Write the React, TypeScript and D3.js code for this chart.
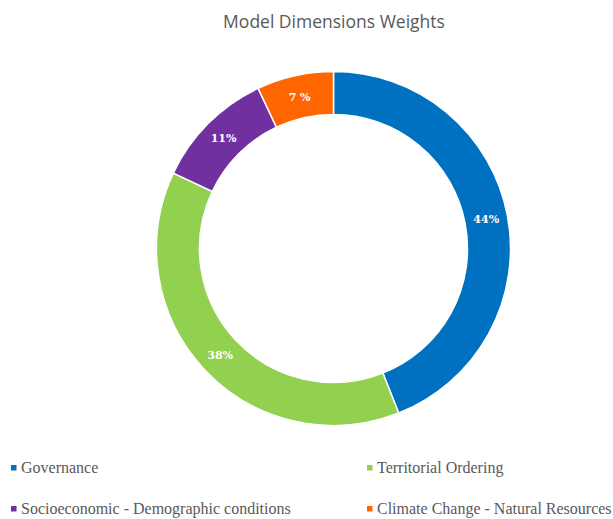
import React from "react";
import * as d3 from "d3";

const categories = [
  "Governance",
  "Territorial Ordering",
  "Socioeconomic - Demographic conditions",
  "Climate Change - Natural Resources",
];
const values = [44, 38, 11, 7];
const labels = ["44%", "38%", "11%", "7 %"];
const colors = ["#0070C0", "#92D050", "#7030A0", "#FF6600"];
const title = "Model Dimensions Weights";

const W = 613;
const H = 519;

export default function App() {
  const cx = 333.5;
  const cy = 248.5;
  const outerR = 177;
  const innerR = 134;
  const pie = d3.pie<number>().sort(null).value((d) => d);
  const arcs = pie(values);
  const arc = d3.arc<d3.PieArcDatum<number>>().innerRadius(innerR).outerRadius(outerR);
  const legendPos = [
    [11, 473],
    [367, 473],
    [11, 514],
    [367, 514],
  ];
  return (
    <svg
      width={W}
      height={H}
      style={{ position: "absolute", left: 0, top: 0, background: "#fff" }}
    >
      <text
        x={334}
        y={28}
        textAnchor="middle"
        fontFamily="'Open Sans', sans-serif"
        fontSize={17.5}
        fill="#595959"
      >
        {title}
      </text>
      <g transform={`translate(${cx},${cy})`}>
        {arcs.map((a, i) => (
          <path key={i} d={arc(a) || ""} fill={colors[i]} stroke="#fff" strokeWidth={1.5} />
        ))}
        {arcs.map((a, i) => {
          const [x, y] = arc.centroid(a);
          return (
            <text
              key={"l" + i}
              x={x}
              y={y}
              dy="0.35em"
              textAnchor="middle"
              fontFamily="'DejaVu Serif', serif"
              fontWeight="bold"
              fontSize={11}
              fill="#fff"
            >
              {labels[i]}
            </text>
          );
        })}
      </g>
      {categories.map((c, i) => (
        <g key={"g" + i} transform={`translate(${legendPos[i][0]},${legendPos[i][1]})`}>
          <rect x={0} y={-8} width={5.5} height={5.5} fill={colors[i]} />
          <text
            x={10}
            y={0}
            fontFamily="'Liberation Serif', serif"
            fontSize={16}
            fill="#595959"
          >
            {c}
          </text>
        </g>
      ))}
    </svg>
  );
}
